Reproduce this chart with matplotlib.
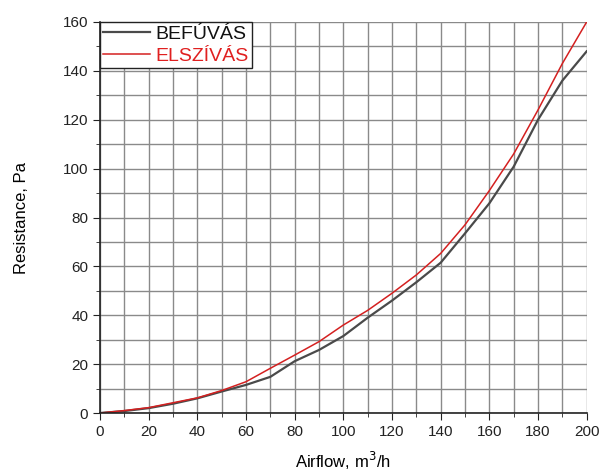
import matplotlib
matplotlib.use("Agg")
import matplotlib.pyplot as plt
from matplotlib.ticker import MultipleLocator

plt.rcParams['font.family'] = ['Liberation Sans', 'DejaVu Sans']

airflow = [0, 10, 20, 30, 40, 50, 60, 70, 80, 90, 100, 110, 120, 130, 140, 150, 160, 170, 180, 190, 200]
befuvas = [0, 0.8, 2.0, 3.8, 6.0, 8.8, 11.5, 14.8, 21.2, 25.8, 31.5, 39, 46, 53.5, 61.5, 73.5, 85.8, 100.8, 120, 136, 148]
elszivas = [0, 1.0, 2.2, 4.2, 6.2, 9.2, 12.8, 18.3, 23.7, 29.2, 36, 42, 49, 56.5, 65.3, 77, 91, 106, 124, 143, 160]

fig = plt.figure(figsize=(6.04, 4.75), dpi=100)
ax = fig.add_axes([0.1656, 0.1305, 0.8057, 0.8232])

ax.plot(airflow, befuvas, color='#4a4a4a', lw=1.6, label='BEFÚVÁS')
ax.plot(airflow, elszivas, color='#d42020', lw=1.1, label='ELSZÍVÁS')

ax.set_xlim(0, 200)
ax.set_ylim(0, 160)
ax.xaxis.set_major_locator(MultipleLocator(20))
ax.xaxis.set_minor_locator(MultipleLocator(10))
ax.yaxis.set_major_locator(MultipleLocator(20))
ax.yaxis.set_minor_locator(MultipleLocator(10))
ax.grid(True, which='both', color='#8a8a8a', lw=1.0)
ax.set_axisbelow(True)
for s in ['top', 'right']:
    ax.spines[s].set_visible(False)
for s in ['left', 'bottom']:
    ax.spines[s].set_color('#222222')
    ax.spines[s].set_linewidth(1.2)
ax.tick_params(which='major', direction='out', length=5, labelsize=11, colors='#222222')
ax.tick_params(which='minor', direction='out', length=3, colors='#222222')

ax.set_xlabel('Airflow, m$^3$/h', fontsize=12, labelpad=8)
ax.set_ylabel('Resistance, Pa', fontsize=12, labelpad=24)

leg = ax.legend(loc='upper left', fontsize=14, frameon=True, fancybox=False,
                borderaxespad=0.0, handlelength=2.4, handletextpad=0.3,
                borderpad=0.15, labelspacing=0.25, framealpha=1.0)
leg.get_frame().set_edgecolor('#222222')
leg.get_frame().set_linewidth(1.0)
leg.get_texts()[0].set_color('#111111')
leg.get_texts()[1].set_color('#e02020')

fig.savefig('out.png', dpi=100)
